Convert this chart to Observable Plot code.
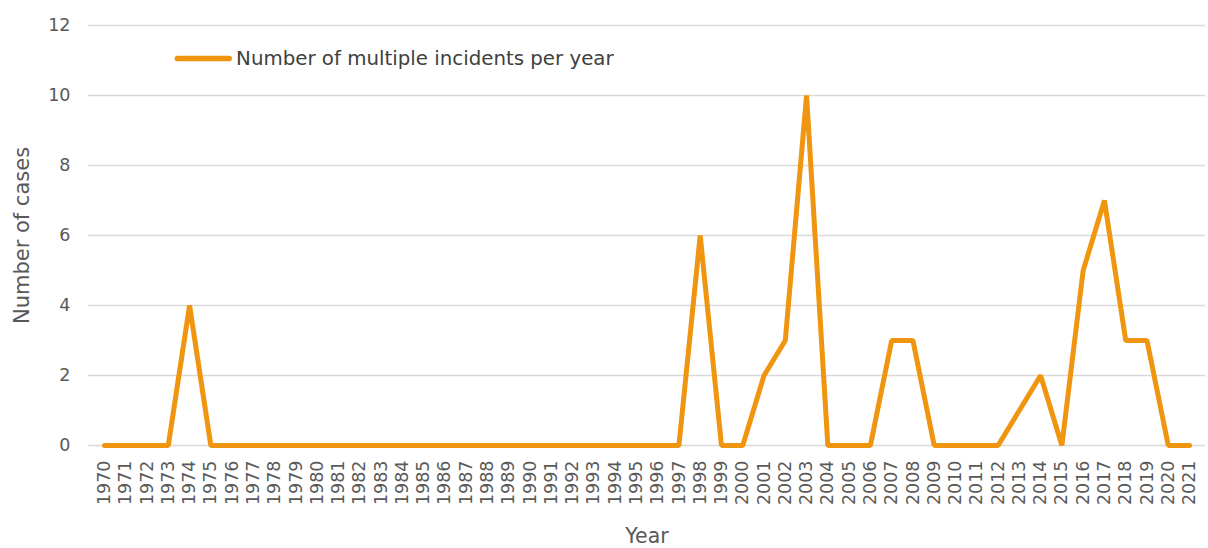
<!DOCTYPE html>
<html>
<head>
<meta charset="utf-8">
<script src="https://cdn.jsdelivr.net/npm/d3@7"></script>
<script src="https://cdn.jsdelivr.net/npm/@observablehq/plot@0.6"></script>
<style>
  html, body { margin: 0; padding: 0; background: #fff; }
  #chart { position: relative; width: 1208px; height: 548px; }
  #chart svg { font-family: "DejaVu Sans", "Open Sans", sans-serif; }
</style>
</head>
<body>
<div id="chart"></div>
<script>
// Yearly counts of multiple incidents, 1970–2021
const years = d3.range(1970, 2022);
const cases = [
  0, 0, 0, 0, 4, 0, 0, 0, 0, 0,   // 1970–1979
  0, 0, 0, 0, 0, 0, 0, 0, 0, 0,   // 1980–1989
  0, 0, 0, 0, 0, 0, 0, 0, 6, 0,   // 1990–1999
  0, 2, 3, 10, 0, 0, 0, 3, 3, 0,  // 2000–2009
  0, 0, 0, 1, 2, 0, 5, 7, 3, 3,   // 2010–2019
  0, 0                            // 2020–2021
];
const yTicks = [0, 2, 4, 6, 8, 10, 12];
const seriesName = "Number of multiple incidents per year";

const data = years.map((y, i) => ({year: String(y), value: cases[i]}));
const lineColor = "#f0950f";

// legend swatch sits just below the top gridline, trimmed to length with a dash
const legendY = 11.06;
const legendSwatch = [{year: "1973", value: legendY}, {year: "1976", value: legendY}];

const chart = Plot.plot({
  width: 1208,
  height: 548,
  marginLeft: 88,
  marginRight: 3,
  marginTop: 25,
  marginBottom: 103,
  style: {fontSize: "17px", color: "#595959", background: "#fff"},
  x: {type: "point", domain: years.map(String), padding: 0.75, round: false, label: null},
  y: {domain: [0, 12], label: null},
  marks: [
    Plot.ruleY(yTicks, {stroke: "#d9d9d9", strokeWidth: 1.3}),
    Plot.axisY({ticks: yTicks, tickSize: 0, tickPadding: 18, fontSize: 17.5, fill: "#595959", label: null}),
    Plot.axisX({tickSize: 0, tickRotate: -90, tickPadding: 15, fontSize: 17.5, fill: "#595959", label: null}),
    Plot.text(["Number of cases"], {frameAnchor: "left", textAnchor: "middle", dx: -66, rotate: -90, fontSize: 21, fill: "#595959"}),
    Plot.text(["Year"], {frameAnchor: "bottom", dy: 97, fontSize: 20.5, fill: "#595959"}),
    Plot.line(data, {x: "year", y: "value", stroke: lineColor, strokeWidth: 5, strokeLinejoin: "miter", strokeLinecap: "round"}),
    Plot.line(legendSwatch, {x: "year", y: "value", dx: 9, stroke: lineColor, strokeWidth: 5.5, strokeLinecap: "round", strokeDasharray: "52,200"}),
    Plot.text([seriesName], {x: () => "1976", y: () => legendY, dx: 4, textAnchor: "start", fontSize: 19.8, fill: "#404040"})
  ]
});

document.getElementById("chart").appendChild(chart);
</script>
</body>
</html>
